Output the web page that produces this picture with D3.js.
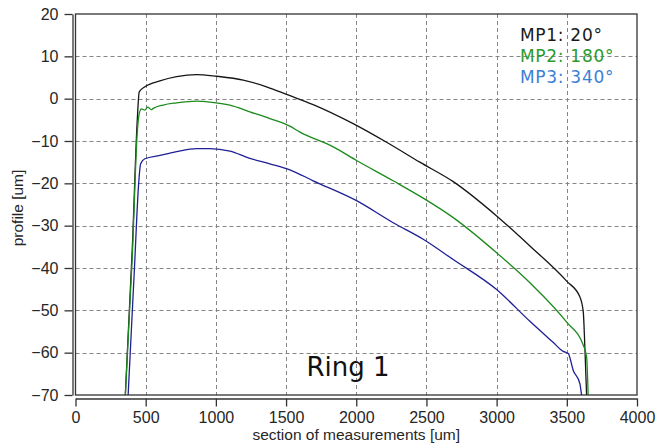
<!DOCTYPE html>
<html>
<head>
<meta charset="utf-8">
<script src="https://cdn.jsdelivr.net/npm/d3@7"></script>
<style>
  body { margin: 0; background: #fff; }
  svg { display: block; }
</style>
</head>
<body>
<div id="chart"></div>
<script>
// profile readings, section position in um / profile in um
const mp1X = [355, 405, 440, 454, 494, 601, 720, 863, 1005, 1195, 1361, 1504, 1693, 1978, 2216, 2453, 2691, 3000, 3237, 3499, 3593, 3617, 3630, 3641];
const mp1Y = [-70, -35, -5, 1.6, 2.8, 4.2, 5.2, 5.7, 5.3, 4.4, 2.8, 1.0, -1.4, -5.9, -10.3, -15, -19.6, -27.7, -34.8, -43.1, -46.8, -50.3, -60, -70];

const mp2X = [355, 405, 440, 454, 470, 494, 515, 540, 554, 625, 720, 863, 957, 1100, 1242, 1385, 1527, 1599, 1836, 2002, 2263, 2477, 2691, 3000, 3237, 3499, 3617, 3641, 3652];
const mp2Y = [-70, -37, -8, -3.5, -2.4, -2.7, -2.0, -2.6, -2.3, -1.5, -1.0, -0.6, -0.8, -1.5, -3.1, -4.7, -6.5, -7.9, -11.4, -14.6, -19.4, -23.5, -28.1, -36.4, -43.5, -52.8, -58.2, -61, -70];

const mp3X = [375, 420, 450, 464, 494, 601, 720, 863, 957, 1100, 1242, 1385, 1527, 1693, 2002, 2263, 2477, 2691, 3000, 3237, 3400, 3474, 3510, 3546, 3593, 3605];
const mp3Y = [-70, -40, -20, -15.4, -14.2, -13.4, -12.5, -11.8, -11.8, -12.4, -14.1, -15.4, -16.8, -19.4, -24.1, -29.3, -33.2, -38.0, -45.1, -52.6, -57.5, -59.7, -60.2, -64.2, -67.3, -70];

const seriesNames = ["MP1: 20°", "MP2: 180°", "MP3: 340°"];
const lineColors = ["#161616", "#1c8a1c", "#1f1f96"];
const legendColors = ["#1a1a1a", "#2e9a2e", "#3b7fd6"];

const xTicks = [0, 500, 1000, 1500, 2000, 2500, 3000, 3500, 4000];
const yTicks = [20, 10, 0, -10, -20, -30, -40, -50, -60, -70];
const xTitle = "section of measurements [um]";
const yTitle = "profile [um]";
const ringLabel = "Ring 1";

const width = 656;
const height = 447;
const margin = { top: 14, right: 19, bottom: 52, left: 75.5 };

const svg = d3.select("#chart")
    .append("svg")
    .attr("width", width)
    .attr("height", height);

const x = d3.scaleLinear().domain([0, 4000]).range([margin.left, width - margin.right]);
const y = d3.scaleLinear().domain([-70, 20]).range([height - margin.bottom, margin.top]);

// dashed grid inside the frame
svg.append("g")
    .selectAll("line")
    .data(xTicks.slice(1, -1))
    .enter()
    .append("line")
    .attr("x1", d => Math.round(x(d)) + 0.5)
    .attr("x2", d => Math.round(x(d)) + 0.5)
    .attr("y1", y(20))
    .attr("y2", y(-70))
    .attr("stroke", "#858585")
    .attr("stroke-dasharray", "4,3");

svg.append("g")
    .selectAll("line")
    .data(yTicks.slice(1, -1))
    .enter()
    .append("line")
    .attr("x1", x(0))
    .attr("x2", x(4000))
    .attr("y1", d => Math.round(y(d)) + 0.5)
    .attr("y2", d => Math.round(y(d)) + 0.5)
    .attr("stroke", "#858585")
    .attr("stroke-dasharray", "4,3");

// clip the profiles to the plot box
svg.append("clipPath")
    .attr("id", "plot-clip")
    .append("rect")
    .attr("x", x(0))
    .attr("y", y(20))
    .attr("width", x(4000) - x(0))
    .attr("height", y(-70) - y(20));

const line = d3.line()
    .curve(d3.curveMonotoneX)
    .x(d => x(d[0]))
    .y(d => y(d[1]));

const series = [
    d3.zip(mp1X, mp1Y),
    d3.zip(mp2X, mp2Y),
    d3.zip(mp3X, mp3Y)
];

svg.append("g")
    .attr("clip-path", "url(#plot-clip)")
    .selectAll("path")
    .data(series)
    .enter()
    .append("path")
    .attr("d", line)
    .attr("fill", "none")
    .attr("stroke", (d, i) => lineColors[i])
    .attr("stroke-width", 1.3)
    .attr("stroke-linejoin", "round");

// frame
svg.append("rect")
    .attr("x", x(0))
    .attr("y", y(20))
    .attr("width", x(4000) - x(0))
    .attr("height", y(-70) - y(20))
    .attr("fill", "none")
    .attr("stroke", "#333")
    .attr("stroke-width", 1.3);

// axes, offset a little away from the frame
const yAxis = svg.append("g")
    .attr("transform", `translate(${margin.left - 3},0)`)
    .call(d3.axisLeft(y).tickValues(yTicks).tickFormat(d3.format("d"))
        .tickSize(8).tickSizeOuter(0).tickPadding(6));

const xAxis = svg.append("g")
    .attr("transform", `translate(0,${y(-70) + 3.5})`)
    .call(d3.axisBottom(x).tickValues(xTicks).tickFormat(d3.format("d"))
        .tickSize(8).tickSizeOuter(0).tickPadding(5));

[xAxis, yAxis].forEach(g => {
    g.select(".domain").attr("stroke", "#333").attr("stroke-width", 1.3);
    g.selectAll(".tick line").attr("stroke", "#333").attr("stroke-width", 1.3);
    g.selectAll(".tick text")
        .attr("fill", "#262626")
        .style("font-family", "'Liberation Sans', Arial, sans-serif")
        .style("font-size", "16px");
});

svg.append("text")
    .attr("x", (x(0) + x(4000)) / 2)
    .attr("y", 440)
    .attr("text-anchor", "middle")
    .attr("fill", "#262626")
    .style("font-family", "'Liberation Sans', Arial, sans-serif")
    .style("font-size", "15.5px")
    .text(xTitle);

svg.append("text")
    .attr("transform", "translate(23,208) rotate(-90)")
    .attr("text-anchor", "middle")
    .attr("fill", "#262626")
    .style("font-family", "'Liberation Sans', Arial, sans-serif")
    .style("font-size", "15.5px")
    .text(yTitle);

// legend
svg.append("g")
    .selectAll("text")
    .data(seriesNames)
    .enter()
    .append("text")
    .attr("x", 520)
    .attr("y", (d, i) => 40.5 + i * 21)
    .attr("fill", (d, i) => legendColors[i])
    .style("font-family", "'DejaVu Sans', Verdana, sans-serif")
    .style("font-size", "17px")
    .style("letter-spacing", "0.7px")
    .text(d => d);

svg.append("text")
    .attr("x", 306.5)
    .attr("y", 376)
    .attr("fill", "#111")
    .style("font-family", "'DejaVu Sans', Verdana, sans-serif")
    .style("font-size", "26px")
    .text(ringLabel);
</script>
</body>
</html>
